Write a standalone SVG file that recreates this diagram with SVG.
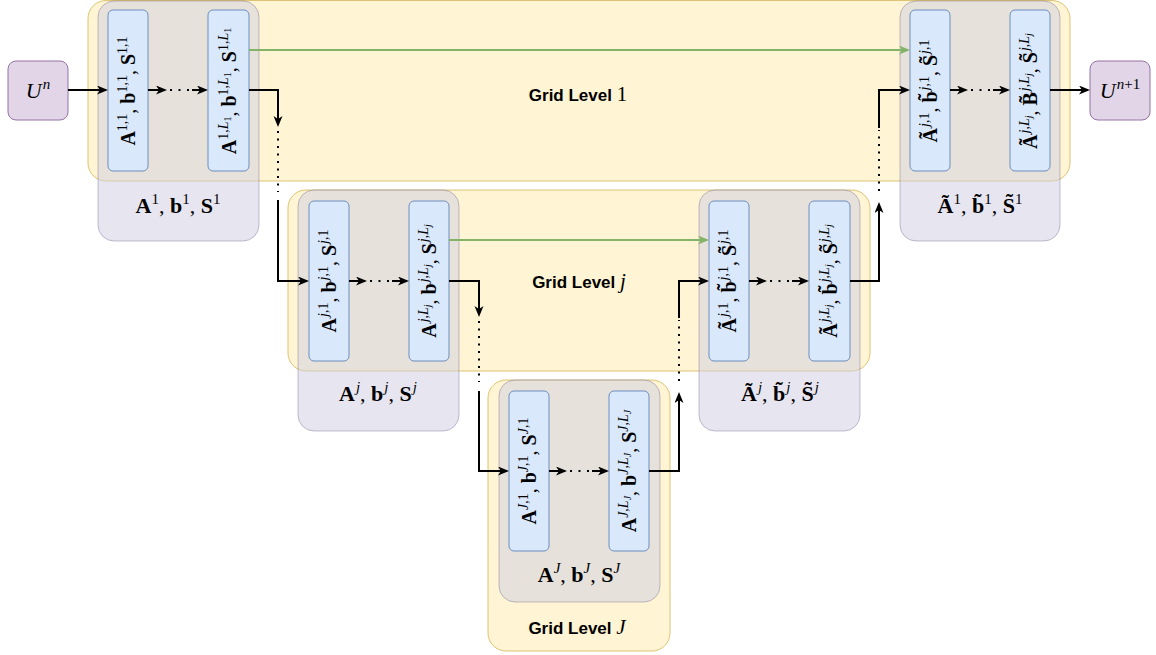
<svg xmlns="http://www.w3.org/2000/svg" width="1156" height="655" viewBox="0 0 1156 655">
<style>
.yel{fill:#fff2cc;fill-opacity:0.85;stroke:#d6b656;stroke-width:1;stroke-opacity:0.8}
.gry{fill:#d0cee2;fill-opacity:0.5;stroke:#56517e;stroke-opacity:0.35;stroke-width:1}
.blu{fill:#dae8fc;stroke:#6c8ebf;stroke-width:1}
.pur{fill:#e1d5e7;stroke:#9673a6;stroke-width:1}
.mb{font-family:"Liberation Serif",serif;font-weight:bold;font-size:20px;fill:#000}
.lb{font-family:"Liberation Serif",serif;font-weight:bold;font-size:22px;fill:#000}
.mi{font-family:"Liberation Serif",serif;font-style:italic;font-size:22px;fill:#000}
.n{font-weight:normal;font-style:normal}
.p{font-size:14px;font-weight:normal;font-style:normal}
.pi{font-size:14px;font-weight:normal;font-style:italic}
.q{font-size:15px;font-weight:normal;font-style:normal}
.qi{font-size:15px;font-weight:normal;font-style:italic}
.s{font-size:10px;font-weight:normal;font-style:normal}
.si{font-size:10px;font-weight:normal;font-style:italic}
.gl{font-family:"Liberation Sans",Arial,sans-serif;font-weight:bold;font-size:17px;fill:#000}
.gm{font-family:"Liberation Serif",serif;font-weight:normal;font-size:21px}
.gmi{font-family:"Liberation Serif",serif;font-weight:normal;font-style:italic;font-size:21px}
.ln{fill:none;stroke:#000;stroke-width:2}
.gr{fill:none;stroke:#82b366;stroke-width:2}
.dt{fill:none;stroke:#000;stroke-width:2;stroke-dasharray:2 5.5}
.dc{fill:none;stroke:#000;stroke-width:2;stroke-dasharray:2 6.5}
</style>
<defs>
<marker id="ah" markerUnits="userSpaceOnUse" markerWidth="12" markerHeight="10" refX="9" refY="4.5" orient="auto">
<path d="M0,0 L11,4.5 L0,9 L3,4.5 Z" fill="#000"/>
</marker>
<marker id="ahg" markerUnits="userSpaceOnUse" markerWidth="12" markerHeight="10" refX="9" refY="4.5" orient="auto">
<path d="M0,0 L11,4.5 L0,9 L3,4.5 Z" fill="#82b366"/>
</marker>
</defs>

<g id="level-1">
<rect class="yel" x="88" y="0.5" width="982" height="180.5" rx="18"/>
<text class="gl" x="578" y="101" text-anchor="middle">Grid Level <tspan class="gm">1</tspan></text>
</g>
<g id="level-j">
<rect class="yel" x="288" y="190" width="582" height="181" rx="18"/>
<text class="gl" x="579" y="288" text-anchor="middle">Grid Level <tspan class="gmi">j</tspan></text>
</g>
<g id="level-J">
<rect class="yel" x="488" y="380" width="182" height="271" rx="18"/>
<text class="gl" x="577" y="634" text-anchor="middle">Grid Level <tspan class="gmi">J</tspan></text>
</g>

<g id="group-1">
<rect class="gry" x="98" y="1" width="161" height="240" rx="16"/>
<text class="lb" x="178" y="213" text-anchor="middle">A<tspan class="q" dy="-9">1</tspan><tspan class="n" dy="9">, </tspan>b<tspan class="q" dy="-9">1</tspan><tspan class="n" dy="9">, </tspan>S<tspan class="q" dy="-9">1</tspan></text>
</g>
<g id="group-j">
<rect class="gry" x="298" y="190" width="161" height="241" rx="16"/>
<text class="lb" x="378" y="401" text-anchor="middle">A<tspan class="qi" dy="-9" dx="1">j</tspan><tspan class="n" dy="9">, </tspan>b<tspan class="qi" dy="-9" dx="1">j</tspan><tspan class="n" dy="9">, </tspan>S<tspan class="qi" dy="-9" dx="1">j</tspan></text>
</g>
<g id="group-J">
<rect class="gry" x="499" y="380" width="161" height="222" rx="16"/>
<text class="lb" x="579" y="582" text-anchor="middle">A<tspan class="qi" dy="-9">J</tspan><tspan class="n" dy="9">, </tspan>b<tspan class="qi" dy="-9">J</tspan><tspan class="n" dy="9">, </tspan>S<tspan class="qi" dy="-9">J</tspan></text>
</g>
<g id="group-tj">
<rect class="gry" x="699" y="190" width="161" height="241" rx="16"/>
<text class="lb" x="780" y="401" text-anchor="middle">Ã<tspan class="qi" dy="-9" dx="1">j</tspan><tspan class="n" dy="9">, </tspan>b̃<tspan class="qi" dy="-9" dx="1">j</tspan><tspan class="n" dy="9">, </tspan>S̃<tspan class="qi" dy="-9" dx="1">j</tspan></text>
</g>
<g id="group-t1">
<rect class="gry" x="900" y="1" width="160" height="240" rx="16"/>
<text class="lb" x="980" y="213" text-anchor="middle">Ã<tspan class="q" dy="-9">1</tspan><tspan class="n" dy="9">, </tspan>b̃<tspan class="q" dy="-9">1</tspan><tspan class="n" dy="9">, </tspan>S̃<tspan class="q" dy="-9">1</tspan></text>
</g>

<g id="un">
<rect class="pur" x="8" y="61" width="60" height="59" rx="8"/>
<text class="mi" x="38" y="98" text-anchor="middle">U<tspan class="qi" dy="-9" dx="1">n</tspan></text>
</g>
<g id="un1">
<rect class="pur" x="1090" y="61" width="60" height="59" rx="8"/>
<text class="mi" x="1120" y="98" text-anchor="middle">U<tspan class="qi" dy="-9" dx="1">n</tspan><tspan class="q">+1</tspan></text>
</g>

<g id="b-1-1">
<rect class="blu" x="108" y="10" width="40" height="161" rx="5"/>
<text class="mb" transform="translate(135,91) rotate(-90)" text-anchor="middle">A<tspan class="p" dy="-8">1,1</tspan><tspan class="n" dy="8">, </tspan>b<tspan class="p" dy="-8">1,1</tspan><tspan class="n" dy="8">, </tspan>S<tspan class="p" dy="-8">1,1</tspan></text>
</g>
<g id="b-1-L">
<rect class="blu" x="208" y="10" width="41" height="161" rx="5"/>
<text class="mb" transform="translate(236,91) rotate(-90)" text-anchor="middle">A<tspan class="p" dy="-8">1,</tspan><tspan class="pi">L</tspan><tspan class="s" dy="3">1</tspan><tspan class="n" dy="5">, </tspan>b<tspan class="p" dy="-8">1,</tspan><tspan class="pi">L</tspan><tspan class="s" dy="3">1</tspan><tspan class="n" dy="5">, </tspan>S<tspan class="p" dy="-8">1,</tspan><tspan class="pi">L</tspan><tspan class="s" dy="3">1</tspan></text>
</g>
<g id="b-j-1">
<rect class="blu" x="309" y="201" width="40" height="160" rx="5"/>
<text class="mb" transform="translate(336,281) rotate(-90)" text-anchor="middle">A<tspan class="pi" dy="-8" dx="1">j</tspan><tspan class="p">,1</tspan><tspan class="n" dy="8">, </tspan>b<tspan class="pi" dy="-8" dx="1">j</tspan><tspan class="p">,1</tspan><tspan class="n" dy="8">, </tspan>S<tspan class="pi" dy="-8" dx="1">j</tspan><tspan class="p">,1</tspan></text>
</g>
<g id="b-j-L">
<rect class="blu" x="409" y="201" width="40" height="160" rx="5"/>
<text class="mb" transform="translate(436,281) rotate(-90)" text-anchor="middle">A<tspan class="pi" dy="-8" dx="1">j</tspan><tspan class="p">,</tspan><tspan class="pi">L</tspan><tspan class="si" dy="3">j</tspan><tspan class="n" dy="5">, </tspan>b<tspan class="pi" dy="-8" dx="1">j</tspan><tspan class="p">,</tspan><tspan class="pi">L</tspan><tspan class="si" dy="3">j</tspan><tspan class="n" dy="5">, </tspan>S<tspan class="pi" dy="-8" dx="1">j</tspan><tspan class="p">,</tspan><tspan class="pi">L</tspan><tspan class="si" dy="3">j</tspan></text>
</g>
<g id="b-J-1">
<rect class="blu" x="509" y="391" width="40" height="160" rx="5"/>
<text class="mb" transform="translate(536,471) rotate(-90)" text-anchor="middle">A<tspan class="pi" dy="-8">J</tspan><tspan class="p">,1</tspan><tspan class="n" dy="8">, </tspan>b<tspan class="pi" dy="-8">J</tspan><tspan class="p">,1</tspan><tspan class="n" dy="8">, </tspan>S<tspan class="pi" dy="-8">J</tspan><tspan class="p">,1</tspan></text>
</g>
<g id="b-J-L">
<rect class="blu" x="609" y="391" width="40" height="160" rx="5"/>
<text class="mb" transform="translate(636,471) rotate(-90)" text-anchor="middle">A<tspan class="pi" dy="-8">J</tspan><tspan class="p">,</tspan><tspan class="pi">L</tspan><tspan class="si" dy="3">J</tspan><tspan class="n" dy="5">, </tspan>b<tspan class="pi" dy="-8">J</tspan><tspan class="p">,</tspan><tspan class="pi">L</tspan><tspan class="si" dy="3">J</tspan><tspan class="n" dy="5">, </tspan>S<tspan class="pi" dy="-8">J</tspan><tspan class="p">,</tspan><tspan class="pi">L</tspan><tspan class="si" dy="3">J</tspan></text>
</g>
<g id="b-tj-1">
<rect class="blu" x="709" y="201" width="40" height="160" rx="5"/>
<text class="mb" transform="translate(736,281) rotate(-90)" text-anchor="middle">Ã<tspan class="pi" dy="-8" dx="1">j</tspan><tspan class="p">,1</tspan><tspan class="n" dy="8">, </tspan>b̃<tspan class="pi" dy="-8" dx="1">j</tspan><tspan class="p">,1</tspan><tspan class="n" dy="8">, </tspan>S̃<tspan class="pi" dy="-8" dx="1">j</tspan><tspan class="p">,1</tspan></text>
</g>
<g id="b-tj-L">
<rect class="blu" x="809" y="201" width="41" height="160" rx="5"/>
<text class="mb" transform="translate(837,281) rotate(-90)" text-anchor="middle">Ã<tspan class="pi" dy="-8" dx="1">j</tspan><tspan class="p">,</tspan><tspan class="pi">L</tspan><tspan class="si" dy="3">j</tspan><tspan class="n" dy="5">, </tspan>b̃<tspan class="pi" dy="-8" dx="1">j</tspan><tspan class="p">,</tspan><tspan class="pi">L</tspan><tspan class="si" dy="3">j</tspan><tspan class="n" dy="5">, </tspan>S̃<tspan class="pi" dy="-8" dx="1">j</tspan><tspan class="p">,</tspan><tspan class="pi">L</tspan><tspan class="si" dy="3">j</tspan></text>
</g>
<g id="b-t1-1">
<rect class="blu" x="910" y="10" width="40" height="161" rx="5"/>
<text class="mb" transform="translate(937,91) rotate(-90)" text-anchor="middle">Ã<tspan class="pi" dy="-8" dx="1">j</tspan><tspan class="p">,1</tspan><tspan class="n" dy="8">, </tspan>b̃<tspan class="pi" dy="-8" dx="1">j</tspan><tspan class="p">,1</tspan><tspan class="n" dy="8">, </tspan>S̃<tspan class="pi" dy="-8" dx="1">j</tspan><tspan class="p">,1</tspan></text>
</g>
<g id="b-t1-L">
<rect class="blu" x="1010" y="10" width="40" height="161" rx="5"/>
<text class="mb" transform="translate(1037,91) rotate(-90)" text-anchor="middle">Ã<tspan class="pi" dy="-8" dx="1">j</tspan><tspan class="p">,</tspan><tspan class="pi">L</tspan><tspan class="si" dy="3">j</tspan><tspan class="n" dy="5">, </tspan>B̃<tspan class="pi" dy="-8" dx="1">j</tspan><tspan class="p">,</tspan><tspan class="pi">L</tspan><tspan class="si" dy="3">j</tspan><tspan class="n" dy="5">, </tspan>S̃<tspan class="pi" dy="-8" dx="1">j</tspan><tspan class="p">,</tspan><tspan class="pi">L</tspan><tspan class="si" dy="3">j</tspan></text>
</g>

<g id="connectors">
<path class="ln" d="M68,90 H106" marker-end="url(#ah)"/>
<path class="ln" d="M148,90 H165" marker-end="url(#ah)"/>
<path class="dc" d="M170,90 H192"/>
<path class="ln" d="M192,90 H206" marker-end="url(#ah)"/>
<path class="ln" d="M249,90 H278 V125" marker-end="url(#ah)"/>
<path class="dt" d="M278,131 V192"/>
<path class="ln" d="M278,200 V281 H307" marker-end="url(#ah)"/>
<path class="ln" d="M349,281 H365" marker-end="url(#ah)"/>
<path class="dc" d="M370,281 H392"/>
<path class="ln" d="M392,281 H407" marker-end="url(#ah)"/>
<path class="ln" d="M449,281 H479 V315" marker-end="url(#ah)"/>
<path class="dt" d="M479,321 V382"/>
<path class="ln" d="M479,391 V471 H507" marker-end="url(#ah)"/>
<path class="ln" d="M549,471 H565" marker-end="url(#ah)"/>
<path class="dc" d="M570,471 H592"/>
<path class="ln" d="M592,471 H607" marker-end="url(#ah)"/>
<path class="ln" d="M649,471 H679 V394" marker-end="url(#ah)"/>
<path class="dt" d="M679,381 V320"/>
<path class="ln" d="M679,318 V281 H707" marker-end="url(#ah)"/>
<path class="ln" d="M749,281 H765" marker-end="url(#ah)"/>
<path class="dc" d="M770,281 H792"/>
<path class="ln" d="M792,281 H807" marker-end="url(#ah)"/>
<path class="ln" d="M850,281 H879 V204" marker-end="url(#ah)"/>
<path class="dt" d="M879,191 V130"/>
<path class="ln" d="M879,128 V90 H908" marker-end="url(#ah)"/>
<path class="ln" d="M950,90 H966" marker-end="url(#ah)"/>
<path class="dc" d="M971,90 H993"/>
<path class="ln" d="M993,90 H1008" marker-end="url(#ah)"/>
<path class="ln" d="M1050,90 H1088" marker-end="url(#ah)"/>
<path class="gr" d="M249,50 H908" marker-end="url(#ahg)"/>
<path class="gr" d="M449,240 H707" marker-end="url(#ahg)"/>
</g>
</svg>
